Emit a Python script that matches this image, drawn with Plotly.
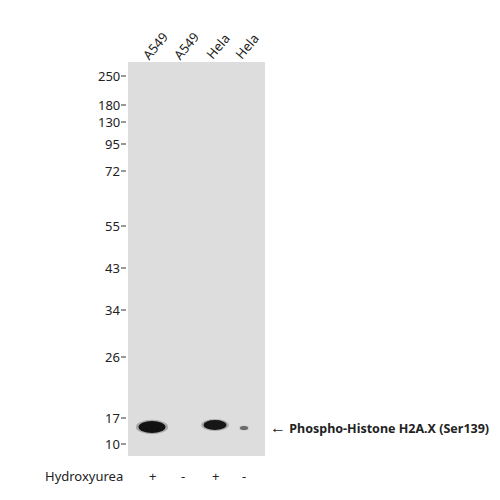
import plotly.graph_objects as go

lanes = ["A549", "A549", "Hela", "Hela"]
lane_x = [152, 183, 215, 244]
treatment = ["+", "-", "+", "-"]
markers = ["250", "180", "130", "95", "72", "55", "43", "34", "26", "17", "10"]
marker_y = [75, 104, 121, 143, 170, 225, 267, 309, 356, 417, 443]
band_y = [426, 424, 424, 427]
band_w = [27, 0, 23, 8]
band_h = [12, 0, 10, 4]
band_op = [1.0, 0, 0.97, 0.5]

FONT = "Noto Sans"
fig = go.Figure()
shapes = [dict(type="rect", x0=128, x1=265, y0=61, y1=455, fillcolor="#dddddd", line_width=0, layer="below")]
for x, y, w, h, op in zip(lane_x, band_y, band_w, band_h, band_op):
    if w == 0:
        continue
    for k, a in [(1.2, 0.25), (1.0, 1.0)]:
        shapes.append(dict(type="circle", x0=x - w / 2 * k, x1=x + w / 2 * k, y0=y - h / 2 * k, y1=y + h / 2 * k,
                           fillcolor="#111111", opacity=op * a, line_width=0))
for y in marker_y:
    shapes.append(dict(type="line", x0=121, x1=126, y0=y, y1=y, line=dict(color="#333", width=1)))
fig.update_layout(shapes=shapes)

ann = []
for m, y in zip(markers, marker_y):
    ann.append(dict(x=122, y=y, text=m, xanchor="right", yanchor="middle", showarrow=False,
                    font=dict(family=FONT, size=13, color="#222")))
for l, x in zip(lanes, lane_x):
    ann.append(dict(x=x + 3, y=45, text=l, textangle=-50, showarrow=False,
                    font=dict(family=FONT, size=13, color="#222")))
for t, x in zip(treatment, lane_x):
    ann.append(dict(x=x, y=475, text=t, showarrow=False, font=dict(family=FONT, size=13, color="#222")))
ann.append(dict(x=125, y=475, text="Hydroxyurea", xanchor="right", showarrow=False,
                font=dict(family=FONT, size=13, color="#222")))
ann.append(dict(x=268, y=426, text="<span style='font-size:16px'>←</span> <b>Phospho-Histone H2A.X (Ser139)</b>",
                xanchor="left", showarrow=False, font=dict(family=FONT, size=12.5, color="#222")))
fig.update_layout(annotations=ann)

# offset ranges compensate for the page's 8px body margin
fig.update_layout(width=500, height=500, margin=dict(l=0, r=0, t=0, b=0),
                  paper_bgcolor="white", plot_bgcolor="white",
                  xaxis=dict(range=[8, 508], visible=False, fixedrange=True),
                  yaxis=dict(range=[507, 7], visible=False, fixedrange=True))
fig.write_html("out.html")
